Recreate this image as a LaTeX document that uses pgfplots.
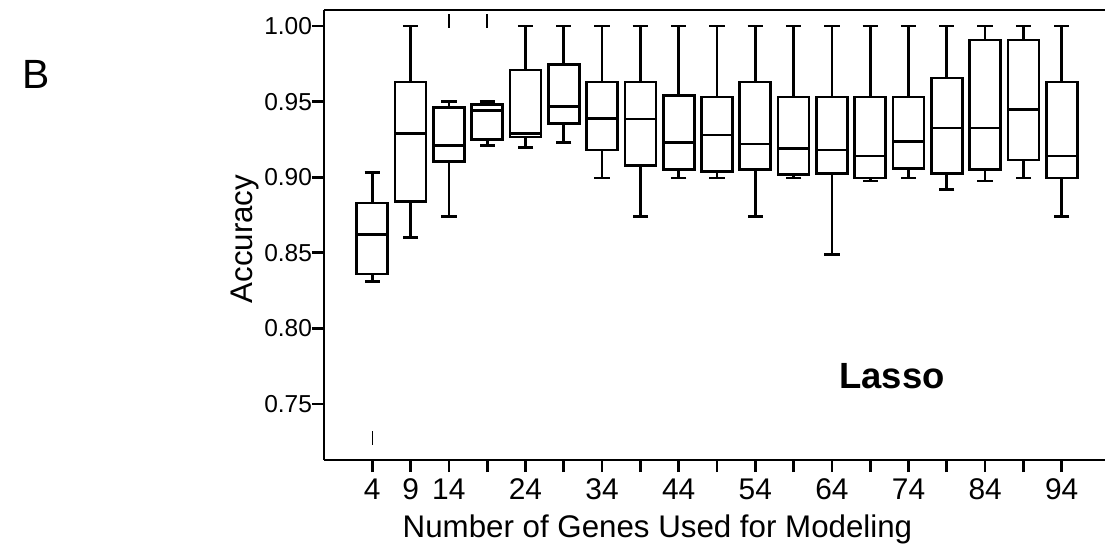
\documentclass[border=0pt]{standalone}
\usepackage{pgfplots}
\usepackage{pgfplotstable}
\pgfplotsset{compat=1.18}
\usepackage{fontspec}
\setmainfont{Liberation Sans}

% box statistics: lower whisker, quartiles, median, upper whisker
\pgfplotstableread{
x  lw     q1     med    q3     uw
4  0.831  0.836  0.862  0.883  0.903
9  0.860  0.884  0.929  0.963  1.000
14 0.874  0.9105 0.921  0.946  0.950
19 0.921  0.925  0.944  0.948  0.950
24 0.9195 0.9266 0.929  0.971  1.000
29 0.923  0.9356 0.947  0.9747 1.000
34 0.8995 0.918  0.939  0.963  1.000
39 0.874  0.9076 0.9385 0.963  1.000
44 0.8995 0.905  0.923  0.954  1.000
49 0.8995 0.904  0.928  0.953  1.000
54 0.874  0.905  0.922  0.963  1.000
59 0.8995 0.902  0.919  0.953  1.000
64 0.849  0.9026 0.918  0.953  1.000
69 0.8975 0.8995 0.914  0.953  1.000
74 0.8995 0.906  0.9235 0.953  1.000
79 0.892  0.9026 0.9325 0.9656 1.000
84 0.8975 0.905  0.9325 0.9907 1.000
89 0.8995 0.9114 0.945  0.9907 1.000
94 0.874  0.8995 0.914  0.963  1.000
}\boxdata

\pgfplotstableread{
x  y
4  0.7275
14 1.0033
19 1.0033
}\outliers

\pgfplotsset{
  edge/.style={black, only marks, mark=-, mark size=7.75bp,
    mark options={line width=1.35bp, line cap=rect}},
  whisk/.style={error bars/.cd, y dir=#1, y explicit, error mark=|,
    error bar style={black, line width=1.35bp},
    error mark options={black, line width=1.35bp, mark size=3.83bp}},
  side/.style={black, only marks, mark=-, mark size=0.01bp,
    error bars/.cd, y dir=plus, y explicit, error mark=none,
    error bar style={black, line width=1.35bp}},
}

\begin{document}
\begin{tikzpicture}
\begin{axis}[
    scale only axis,
    width=391.85bp, height=225bp,
    xmin=-2.3, xmax=100,
    ymin=0.713, ymax=1.0106,
    axis x line=box, axis y line=left,
    axis line style={-, line width=1.35bp},
    xtick pos=left, ytick pos=left,
    tick align=outside,
    major tick length=6bp,
    tick style={black, line width=1.35bp},
    xtick={4,9,...,94},
    xticklabels={4,9,14,,24,,34,,44,,54,,64,,74,,84,,94},
    ytick={0.75,0.80,0.85,0.90,0.95,1.00},
    yticklabels={0.75,0.80,0.85,0.90,0.95,1.00},
    /pgf/number format/assume math mode=true,
    xticklabel style={font=\fontsize{15}{17}\selectfont},
    yticklabel style={font=\fontsize{12.3}{14}\selectfont, xshift=3.5bp},
    xlabel={Number of Genes Used for Modeling},
    ylabel={Accuracy},
    xlabel style={at={(axis description cs:0.4255,-0.1733)}, anchor=base,
      font=\fontsize{15.7}{18}\selectfont},
    ylabel style={at={(axis description cs:-0.0906,0.491)}, anchor=base,
      font=\fontsize{15.7}{18}\selectfont},
    clip=false,
]
% upper whiskers with box tops
\addplot[edge, whisk=plus]
  table[x=x, y=q3, y error expr=\thisrow{uw}-\thisrow{q3}] {\boxdata};
% lower whiskers with box bottoms
\addplot[edge, whisk=minus]
  table[x=x, y=q1, y error expr=\thisrow{q1}-\thisrow{lw}] {\boxdata};
% medians
\addplot[edge] table[x=x, y=med] {\boxdata};
% box sides
\addplot[side] table[x expr=\thisrow{x}-2.025, y=q1, y error expr=\thisrow{q3}-\thisrow{q1}] {\boxdata};
\addplot[side] table[x expr=\thisrow{x}+2.025, y=q1, y error expr=\thisrow{q3}-\thisrow{q1}] {\boxdata};
% outliers
\addplot[black, only marks, mark=|, mark size=3.5bp, mark options={line width=0.7bp}]
  table[x=x, y=y] {\outliers};
\end{axis}
\node[anchor=base, font=\bfseries\fontsize{18.3}{20}\selectfont] at (284bp,36bp) {Lasso};
\node[anchor=base west, inner sep=0pt, font=\fontsize{20.5}{22}\selectfont] at (-151.15bp,185.5bp) {B};
\pgfresetboundingbox
\path[use as bounding box] (-162bp,-45bp) rectangle (390.5bp,230bp);
\end{tikzpicture}
\end{document}
